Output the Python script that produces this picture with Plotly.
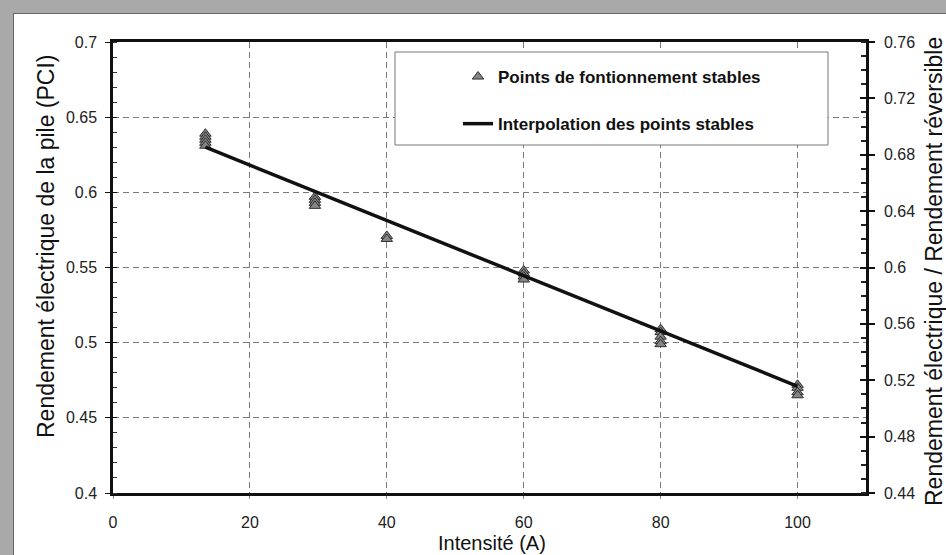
import plotly.graph_objects as go

# ---- data ----
stable_x = [13.5] * 5 + [29.5] * 4 + [40] * 2 + [60] * 4 + [80] * 5 + [100] * 4
stable_y = [0.639, 0.637, 0.635, 0.633, 0.631,
            0.597, 0.595, 0.593, 0.591,
            0.571, 0.569,
            0.548, 0.546, 0.544, 0.542,
            0.509, 0.507, 0.504, 0.501, 0.499,
            0.472, 0.470, 0.467, 0.465]
interp_x = [13.5, 100]
interp_y = [0.630, 0.471]

name_points = "Points de fontionnement stables"
name_interp = "Interpolation des points stables"
x_title = "Intensité (A)"
y_title = "Rendement électrique de la pile (PCI)"
y2_title = "Rendement électrique / Rendement réversible"

# ---- layout geometry (pixels) ----
W, H = 946, 555
L, R, T, B = 113, 80, 42, 62
PW, PH = W - L - R, H - T - B


def px(x):
    return (x - L) / PW


def py(y):
    return (H - B - y) / PH


FONT = "Liberation Sans, Arial, sans-serif"

fig = go.Figure()
fig.add_trace(go.Scatter(
    x=stable_x, y=stable_y, mode="markers", name=name_points,
    legendgroup="a",
    marker=dict(symbol="triangle-up", size=10, color="#858585",
                line=dict(color="#2e2e2e", width=1)),
))
fig.add_trace(go.Scatter(
    x=interp_x, y=interp_y, mode="lines", name=name_interp,
    legendgroup="b",
    line=dict(color="#111111", width=3.5),
))
# empty traces to activate extra axes
for ax in ["y2", "y3", "y4"]:
    fig.add_trace(go.Scatter(x=[], y=[], yaxis=ax, showlegend=False, hoverinfo="skip"))

tickfont = dict(family=FONT, size=16, color="#222")

fig.update_layout(
    width=W, height=H,
    margin=dict(l=L, r=R, t=T, b=B),
    paper_bgcolor="white", plot_bgcolor="white",
    showlegend=True,
    legend=dict(
        x=px(458), y=py(59), xanchor="left", yanchor="top",
        bgcolor="rgba(0,0,0,0)", borderwidth=0,
        font=dict(family=FONT, size=17, color="#111", weight="bold"),
        tracegroupgap=22,
    ),
    xaxis=dict(
        range=[0, 110], dtick=20, tick0=0,
        showgrid=True, gridcolor="#7a7a7a", gridwidth=1, griddash="6px,4px",
        zeroline=False,
        showline=True, linecolor="#111", linewidth=2.5, mirror=True,
        ticks="outside", ticklen=3, tickcolor="#888",
        tickfont=tickfont, ticklabelstandoff=10,
    ),
    yaxis=dict(
        range=[0.4, 0.7], dtick=0.05, tick0=0.4,
        showgrid=True, gridcolor="#7a7a7a", gridwidth=1, griddash="6px,4px",
        zeroline=False,
        showline=True, linecolor="#111", linewidth=2.5,
        ticks="outside", ticklen=5, tickcolor="#111",
        minor=dict(dtick=0.01, ticks="inside", ticklen=4, tickcolor="#333", showgrid=False),
        tickfont=tickfont, ticklabelstandoff=5,
    ),
    yaxis2=dict(
        range=[0.44, 0.76], dtick=0.04, tick0=0.44, tickformat=".2~f",
        overlaying="y", side="right", anchor="x",
        showgrid=False, zeroline=False,
        showline=True, linecolor="#111", linewidth=2.5,
        ticks="outside", ticklen=6, tickcolor="#111", tickwidth=1.5,
        minor=dict(dtick=0.01, ticks="inside", ticklen=5, tickcolor="#222", tickwidth=1.5),
        tickfont=tickfont, ticklabelstandoff=6,
    ),
    yaxis3=dict(
        range=[0.4, 0.7], dtick=0.05, tick0=0.4,
        overlaying="y", side="left", anchor="x",
        showgrid=False, zeroline=False, showline=False, showticklabels=False,
        ticks="inside", ticklen=4, tickcolor="#111",
    ),
    yaxis4=dict(
        range=[0.44, 0.76], dtick=0.04, tick0=0.44,
        overlaying="y", side="right", anchor="x",
        showgrid=False, zeroline=False, showline=False, showticklabels=False,
        ticks="inside", ticklen=6, tickcolor="#111", tickwidth=1.5,
    ),
)

shapes = [
    # legend box
    dict(type="rect", xref="paper", yref="paper",
         x0=px(395), x1=px(828), y0=py(145), y1=py(52),
         fillcolor="white", line=dict(color="#777", width=1), layer="above"),
    # scanned frame: top and left grey bands
    dict(type="rect", xref="paper", yref="paper",
         x0=px(0), x1=px(W), y0=py(13), y1=py(0),
         fillcolor="#a9a9a9", line=dict(width=0), layer="above"),
    dict(type="rect", xref="paper", yref="paper",
         x0=px(0), x1=px(13), y0=py(H), y1=py(0),
         fillcolor="#a9a9a9", line=dict(width=0), layer="above"),
    dict(type="line", xref="paper", yref="paper",
         x0=px(13), x1=px(W), y0=py(13.5), y1=py(13.5),
         line=dict(color="#666", width=1), layer="above"),
    dict(type="line", xref="paper", yref="paper",
         x0=px(13.5), x1=px(13.5), y0=py(H), y1=py(13),
         line=dict(color="#666", width=1), layer="above"),
]
fig.update_layout(shapes=shapes)

annotations = [
    dict(text=x_title, xref="paper", yref="paper", x=px(492), y=py(543),
         xanchor="center", yanchor="middle", showarrow=False,
         font=dict(family=FONT, size=20, color="#111")),
    dict(text=y_title, xref="paper", yref="paper", x=px(46), y=py(246),
         xanchor="center", yanchor="middle", showarrow=False, textangle=-90,
         font=dict(family=FONT, size=23, color="#111")),
    dict(text=y2_title, xref="paper", yref="paper", x=px(934), y=py(271),
         xanchor="center", yanchor="middle", showarrow=False, textangle=-90,
         font=dict(family=FONT, size=23, color="#111")),
]
fig.update_layout(annotations=annotations)

fig.write_html(
    "out.html",
    config={"displayModeBar": False},
    post_script="document.body.style.margin='0';document.body.style.overflow='hidden';",
)
